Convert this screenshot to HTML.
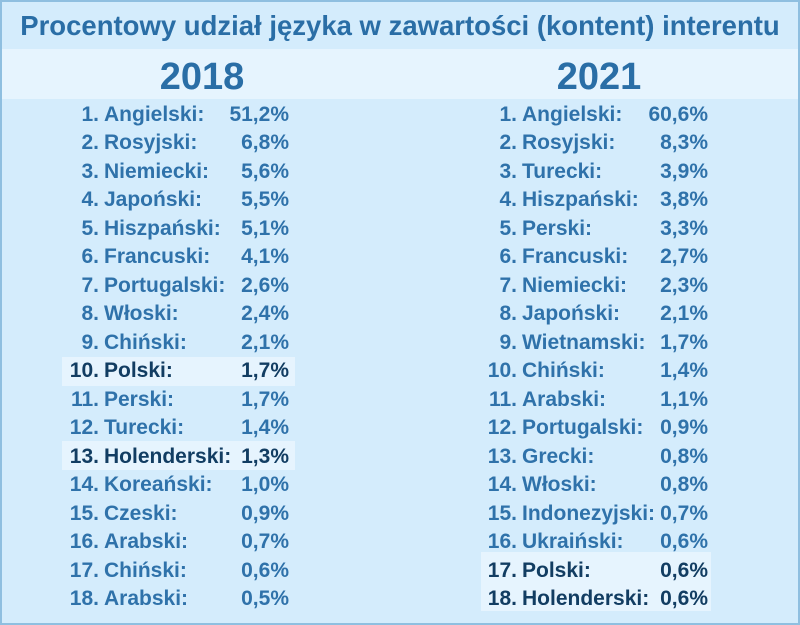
<!DOCTYPE html>
<html><head><meta charset="utf-8"><style>
body{margin:0;width:800px;height:625px;overflow:hidden;font-family:"Liberation Sans",sans-serif;}
#c{position:absolute;left:0;top:0;width:796px;height:621px;border:2px solid #8fbfe0;background:#d4ecfc;}
.title{position:absolute;left:0;top:0;width:796px;height:46px;line-height:48px;text-align:center;font-weight:bold;font-size:27.5px;color:#2a6ea6;white-space:nowrap}
.band{position:absolute;left:0;top:47px;width:796px;height:50px;background:#e6f4fe}
.yr{position:absolute;top:47px;height:50px;line-height:56px;font-weight:bold;font-size:38px;color:#2a6ea6;width:200px;text-align:center}
.r{position:absolute;height:26px;line-height:28px;font-weight:bold;font-size:21px;color:#2f72aa}
.r .n{position:absolute;text-align:right;white-space:nowrap}
.r .l{position:absolute;white-space:nowrap}
.r .p{position:absolute;text-align:right;white-space:nowrap}
.L .n{left:0;width:97px}.L .l{left:102px}.L .p{left:200px;width:87px}
.R .n{left:0;width:515px}.R .l{left:520px}.R .p{left:620px;width:86px}
.h{color:#123d62}
.hb{position:absolute;background:#e6f4fe}
</style></head><body><div id="c">
<div class="title">Procentowy udział języka w zawartości (kontent) interentu</div>
<div class="band"></div>
<div class="yr" style="left:100px">2018</div>
<div class="yr" style="left:497px">2021</div>
<div class="hb" style="left:60px;top:355px;width:233px;height:29px"></div>
<div class="hb" style="left:60px;top:439px;width:233px;height:29px"></div>
<div class="hb" style="left:479px;top:550px;width:230px;height:59px"></div>

<div class="r L" style="top:99px;width:300px"><span class="n">1.</span><span class="l">Angielski:</span><span class="p">51,2%</span></div>
<div class="r L" style="top:127px;width:300px"><span class="n">2.</span><span class="l">Rosyjski:</span><span class="p">6,8%</span></div>
<div class="r L" style="top:156px;width:300px"><span class="n">3.</span><span class="l">Niemiecki:</span><span class="p">5,6%</span></div>
<div class="r L" style="top:184px;width:300px"><span class="n">4.</span><span class="l">Japoński:</span><span class="p">5,5%</span></div>
<div class="r L" style="top:213px;width:300px"><span class="n">5.</span><span class="l">Hiszpański:</span><span class="p">5,1%</span></div>
<div class="r L" style="top:241px;width:300px"><span class="n">6.</span><span class="l">Francuski:</span><span class="p">4,1%</span></div>
<div class="r L" style="top:270px;width:300px"><span class="n">7.</span><span class="l">Portugalski:</span><span class="p">2,6%</span></div>
<div class="r L" style="top:298px;width:300px"><span class="n">8.</span><span class="l">Włoski:</span><span class="p">2,4%</span></div>
<div class="r L" style="top:327px;width:300px"><span class="n">9.</span><span class="l">Chiński:</span><span class="p">2,1%</span></div>
<div class="r L h" style="top:355px;width:300px"><span class="n">10.</span><span class="l">Polski:</span><span class="p">1,7%</span></div>
<div class="r L" style="top:384px;width:300px"><span class="n">11.</span><span class="l">Perski:</span><span class="p">1,7%</span></div>
<div class="r L" style="top:412px;width:300px"><span class="n">12.</span><span class="l">Turecki:</span><span class="p">1,4%</span></div>
<div class="r L h" style="top:441px;width:300px"><span class="n">13.</span><span class="l">Holenderski:</span><span class="p">1,3%</span></div>
<div class="r L" style="top:469px;width:300px"><span class="n">14.</span><span class="l">Koreański:</span><span class="p">1,0%</span></div>
<div class="r L" style="top:498px;width:300px"><span class="n">15.</span><span class="l">Czeski:</span><span class="p">0,9%</span></div>
<div class="r L" style="top:526px;width:300px"><span class="n">16.</span><span class="l">Arabski:</span><span class="p">0,7%</span></div>
<div class="r L" style="top:555px;width:300px"><span class="n">17.</span><span class="l">Chiński:</span><span class="p">0,6%</span></div>
<div class="r L" style="top:583px;width:300px"><span class="n">18.</span><span class="l">Arabski:</span><span class="p">0,5%</span></div>

<div class="r R" style="top:99px;width:720px"><span class="n">1.</span><span class="l">Angielski:</span><span class="p">60,6%</span></div>
<div class="r R" style="top:127px;width:720px"><span class="n">2.</span><span class="l">Rosyjski:</span><span class="p">8,3%</span></div>
<div class="r R" style="top:156px;width:720px"><span class="n">3.</span><span class="l">Turecki:</span><span class="p">3,9%</span></div>
<div class="r R" style="top:184px;width:720px"><span class="n">4.</span><span class="l">Hiszpański:</span><span class="p">3,8%</span></div>
<div class="r R" style="top:213px;width:720px"><span class="n">5.</span><span class="l">Perski:</span><span class="p">3,3%</span></div>
<div class="r R" style="top:241px;width:720px"><span class="n">6.</span><span class="l">Francuski:</span><span class="p">2,7%</span></div>
<div class="r R" style="top:270px;width:720px"><span class="n">7.</span><span class="l">Niemiecki:</span><span class="p">2,3%</span></div>
<div class="r R" style="top:298px;width:720px"><span class="n">8.</span><span class="l">Japoński:</span><span class="p">2,1%</span></div>
<div class="r R" style="top:327px;width:720px"><span class="n">9.</span><span class="l">Wietnamski:</span><span class="p">1,7%</span></div>
<div class="r R" style="top:355px;width:720px"><span class="n">10.</span><span class="l">Chiński:</span><span class="p">1,4%</span></div>
<div class="r R" style="top:384px;width:720px"><span class="n">11.</span><span class="l">Arabski:</span><span class="p">1,1%</span></div>
<div class="r R" style="top:412px;width:720px"><span class="n">12.</span><span class="l">Portugalski:</span><span class="p">0,9%</span></div>
<div class="r R" style="top:441px;width:720px"><span class="n">13.</span><span class="l">Grecki:</span><span class="p">0,8%</span></div>
<div class="r R" style="top:469px;width:720px"><span class="n">14.</span><span class="l">Włoski:</span><span class="p">0,8%</span></div>
<div class="r R" style="top:498px;width:720px"><span class="n">15.</span><span class="l">Indonezyjski:</span><span class="p">0,7%</span></div>
<div class="r R" style="top:526px;width:720px"><span class="n">16.</span><span class="l">Ukraiński:</span><span class="p">0,6%</span></div>
<div class="r R h" style="top:555px;width:720px"><span class="n">17.</span><span class="l">Polski:</span><span class="p">0,6%</span></div>
<div class="r R h" style="top:583px;width:720px"><span class="n">18.</span><span class="l">Holenderski:</span><span class="p">0,6%</span></div>
</div></body></html>
